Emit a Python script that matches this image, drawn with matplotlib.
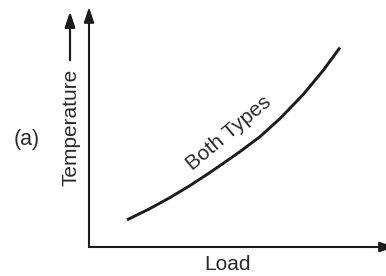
import matplotlib
matplotlib.use("Agg")
import matplotlib.pyplot as plt

# data (arbitrary units, axis 0..10)
load = [1.28, 2.05, 2.73, 3.40, 3.97, 4.41, 5.08, 5.76, 6.43, 7.21, 7.88, 8.45]
temperature = [1.13, 1.60, 2.06, 2.56, 3.02, 3.39, 3.97, 4.60, 5.35, 6.35, 7.35, 8.31]
curve_label = "Both Types"
x_label = "Load"
y_label = "Temperature"
panel_label = "(a)"

plt.rcParams["font.family"] = ["Liberation Sans", "DejaVu Sans"]
ink = "#1c1a1a"
text_ink = "#2a2a2a"

W, H = 386, 276
fig = plt.figure(figsize=(W / 100, H / 100), dpi=100)

# axes box: x from 89px to right edge, y from 247px (bottom) up to 7px (top)
ax = fig.add_axes([89 / W, (H - 247) / H, (W - 89) / W, 240 / H])
ax.set_xlim(0, 10)
ax.set_ylim(0, 10)
ax.axis("off")

ax.plot(load, temperature, color=ink, lw=2.1, solid_capstyle="butt",
        solid_joinstyle="round")

arrow = dict(arrowstyle="-|>,head_length=0.9,head_width=0.3", color=ink,
             lw=1.5, shrinkA=0, shrinkB=0)
# y axis with arrow
ax.annotate("", xy=(0, 1), xytext=(0, 0), xycoords="axes fraction",
            arrowprops=arrow, annotation_clip=False)
# x axis, arrow head cut off by the figure edge
ax.annotate("", xy=(1.03, 0), xytext=(0, 0), xycoords="axes fraction",
            arrowprops=arrow, annotation_clip=False)

# temperature arrow beside the label
fig.add_artist(plt.annotate("", xy=(70 / W, 1 - 12 / H), xytext=(70 / W, 1 - 60 / H),
                            xycoords="figure fraction", arrowprops=arrow,
                            annotation_clip=False))

fig.text(71 / W, 1 - 127 / H, y_label, rotation=90, ha="center", va="center",
         fontsize=15, color=text_ink)
fig.text(227 / W, 1 - 264 / H, x_label, ha="center", va="center",
         fontsize=15, color=text_ink)
fig.text(27 / W, 1 - 140 / H, panel_label, ha="center", va="center",
         fontsize=15.5, color=text_ink)
fig.text(229 / W, 1 - 133 / H, curve_label, rotation=40, ha="center", va="center",
         rotation_mode="anchor", fontsize=15, color=text_ink)

fig.savefig("out.png", dpi=100)
